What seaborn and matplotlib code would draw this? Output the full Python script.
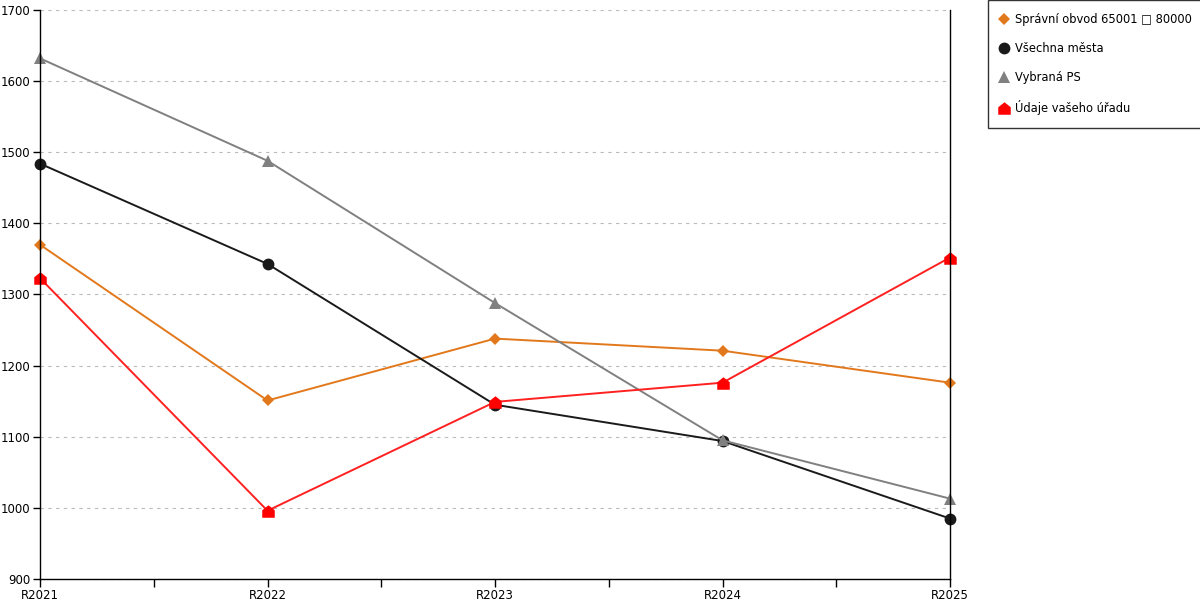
import numpy as np
import pandas as pd
import seaborn as sns
from matplotlib import pyplot as plt
from matplotlib.path import Path
from matplotlib.ticker import MultipleLocator

roky = ['R2021', 'R2022', 'R2023', 'R2024', 'R2025']
spravni_obvod = [1370, 1151, 1238, 1221, 1176]
vsechna_mesta = [1484, 1343, 1145, 1094, 985]
vybrana_ps = [1632, 1488, 1288, 1095, 1013]
vas_urad = [1323, 996, 1149, 1176, 1352]

nazvy = ['Správní obvod 65001 □ 80000', 'Všechna města', 'Vybraná PS', 'Údaje vašeho úřadu']

# marker ve tvaru domecku
domek = Path([(-1, -1), (1, -1), (1, 0.2), (0, 1), (-1, 0.2), (-1, -1)],
             [Path.MOVETO, Path.LINETO, Path.LINETO, Path.LINETO, Path.LINETO, Path.CLOSEPOLY])

serie = [
    (spravni_obvod, '#E2781C', 'D', 6.5),
    (vsechna_mesta, '#1a1a1a', 'o', 8.5),
    (vybrana_ps, '#808080', '^', 9),
    (vas_urad, '#FF2020', domek, 9),
]

sns.set_style('white')
plt.rcParams['font.family'] = ['DejaVu Sans']
plt.rcParams['text.color'] = 'black'
plt.rcParams['xtick.color'] = 'black'
plt.rcParams['ytick.color'] = 'black'

fig = plt.figure(figsize=(12, 6), dpi=100)
ax = fig.add_axes([40 / 1200, 21 / 600, 910 / 1200, 569 / 600])

x = np.arange(len(roky))
for (hodnoty, barva, mark, vel), nazev in zip(serie, nazvy):
    df = pd.DataFrame({'x': x, 'y': hodnoty})
    sns.lineplot(data=df, x='x', y='y', ax=ax, color=barva, lw=1.4,
                 marker=mark, markersize=vel, markeredgewidth=0,
                 markerfacecolor='red' if barva == '#FF2020' else barva,
                 label=nazev, clip_on=False)

ax.set_xlim(0, len(roky) - 1)
ax.set_ylim(900, 1700)
ax.yaxis.set_major_locator(MultipleLocator(100))
ax.set_xticks(np.arange(0, len(roky) - 0.99, 0.5))
ax.set_xticklabels([v for k in roky for v in (k, '')][:-1])
ax.set_xlabel('')
ax.set_ylabel('')
ax.grid(axis='y', color='#bbbbbb', ls=(0, (3, 4)), lw=0.8)
ax.set_axisbelow(True)

for s in ['left', 'bottom', 'right']:
    ax.spines[s].set_color('black')
    ax.spines[s].set_linewidth(1)
ax.spines['top'].set_visible(False)
ax.tick_params(axis='both', which='major', direction='out', length=5, width=1,
               color='black', labelcolor='black', labelsize=8.5, pad=2)
ax.tick_params(axis='x', length=6, pad=1)
ax.tick_params(left=True, bottom=True)

leg = ax.legend(loc='upper left', bbox_to_anchor=(988 / 1200, 1.0),
                bbox_transform=fig.transFigure, frameon=True, fancybox=False,
                fontsize=8.3, handlelength=0.5, handletextpad=0.7,
                labelspacing=1.4, borderpad=1.1, borderaxespad=0)
for h in leg.legend_handles:
    h.set_linestyle('none')
for t in leg.get_texts():
    t.set_color('black')
leg.get_frame().set_edgecolor('black')
leg.get_frame().set_linewidth(1)

fig.savefig('out.png', dpi=100)
